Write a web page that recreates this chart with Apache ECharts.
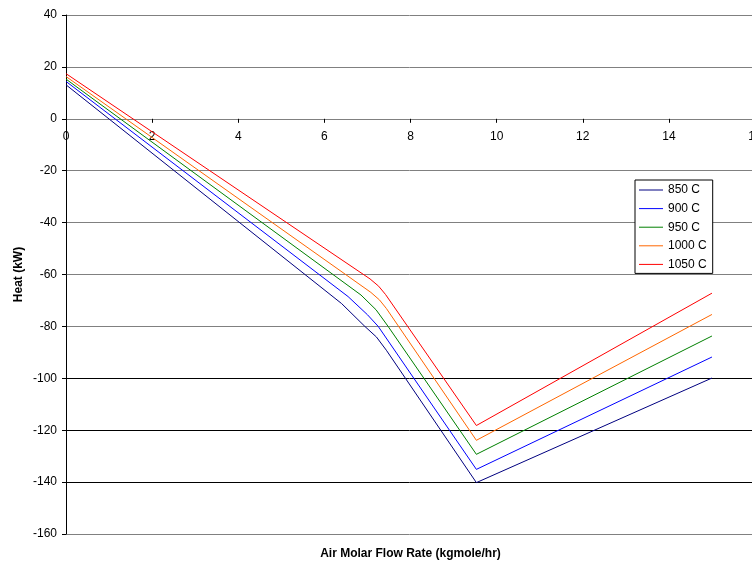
<!DOCTYPE html>
<html>
<head>
<meta charset="utf-8">
<script src="https://cdn.jsdelivr.net/npm/echarts@6/dist/echarts.min.js"></script>
<style>
  html, body { margin: 0; padding: 0; background: #fff; }
  #chart { width: 752px; height: 564px; }
</style>
</head>
<body>
<div id="chart"></div>
<script>
// ---- Data ----
const seriesNames = ['850 C', '900 C', '950 C', '1000 C', '1050 C'];
const seriesColors = ['#000080', '#0000FF', '#008000', '#FF6600', '#FF0000'];

const data850 = [[0, 13.1], [6.4, -71.2], [6.94, -80.0], [7.21, -84.1], [7.44, -89.2], [9.53, -140.2], [15, -99.9]];
const data900 = [[0, 14.4], [6.55, -68.5], [7.0, -75.5], [7.25, -80.0], [9.53, -135.1], [15, -91.8]];
const data950 = [[0, 15.3], [6.85, -67.9], [7.2, -73.6], [7.48, -80.0], [9.53, -129.3], [15, -83.7]];
const data1000 = [[0, 16.3], [7.08, -66.9], [7.28, -69.8], [7.44, -73.1], [9.53, -123.9], [15, -75.4]];
const data1050 = [[0, 17.4], [7.06, -61.7], [7.26, -64.5], [7.42, -67.7], [9.53, -118.2], [15, -67.2]];

const xTicks = [0, 2, 4, 6, 8, 10, 12, 14, 16];
const yTicks = [-160, -140, -120, -100, -80, -60, -40, -20, 0, 20, 40];

const xTitle = 'Air Molar Flow Rate (kgmole/hr)';
const yTitle = 'Heat (kW)';

// ---- Chart ----
const allData = [data850, data900, data950, data1000, data1050];
const font = '"Liberation Sans", Arial, sans-serif';
const GRAY = '#808080';
const BLACK = '#000000';
const splitColors = yTicks.map(v => (v >= -140 && v <= -100) ? BLACK : GRAY);

const gridTop = 15;
const gridHeight = 519;
const yMin = yTicks[0], yMax = yTicks[yTicks.length - 1];
// distance from the grid top down to the value 0 (x axis crosses there)
const zeroOffset = gridHeight * (yMax - 0) / (yMax - yMin);

const chart = echarts.init(document.getElementById('chart'), null, { renderer: 'canvas' });
chart.setOption({
  animation: false,
  backgroundColor: '#ffffff',
  textStyle: { fontFamily: font },
  grid: { left: 66, width: 689, top: gridTop, height: gridHeight, containLabel: false, outerBoundsMode: 'none' },
  legend: {
    orient: 'vertical',
    left: 635,
    top: 180,
    data: seriesNames,
    icon: 'rect',
    itemWidth: 24,
    itemHeight: 1,
    itemGap: 4.6,
    padding: [3, 6, 2, 4],
    borderColor: '#000',
    borderWidth: 1,
    backgroundColor: '#fff',
    textStyle: { fontFamily: font, fontSize: 12, color: '#000', lineHeight: 14 }
  },
  xAxis: [{
    type: 'value',
    position: 'top',
    offset: -zeroOffset,
    min: xTicks[0],
    max: xTicks[xTicks.length - 1],
    interval: 2,
    axisLine: { show: true, onZero: false, lineStyle: { color: GRAY, width: 1 } },
    axisTick: { show: true, inside: true, length: 4, lineStyle: { color: BLACK } },
    axisLabel: { inside: true, margin: 12, fontSize: 12, color: '#000', fontFamily: font, showMaxLabel: true, showMinLabel: true },
    splitLine: { show: false }
  }, {
    type: 'value',
    position: 'bottom',
    min: xTicks[0],
    max: xTicks[xTicks.length - 1],
    interval: 2,
    name: xTitle,
    nameLocation: 'middle',
    nameGap: 14,
    nameTextStyle: { fontFamily: font, fontSize: 12, fontWeight: 'bold', color: '#000' },
    axisLine: { show: false, onZero: false },
    axisTick: { show: false },
    axisLabel: { show: false },
    splitLine: { show: false }
  }],
  yAxis: {
    type: 'value',
    min: yMin,
    max: yMax,
    interval: 20,
    name: yTitle,
    nameLocation: 'middle',
    nameGap: 41,
    nameMoveOverlap: false,
    nameTextStyle: { fontFamily: font, fontSize: 12, fontWeight: 'bold', color: '#000' },
    axisLine: { show: true, onZero: false, lineStyle: { color: BLACK, width: 1 } },
    axisTick: { show: true, length: 4, lineStyle: { color: BLACK } },
    axisLabel: { margin: 9, fontSize: 12, color: '#000', fontFamily: font },
    splitLine: { show: true, lineStyle: { color: splitColors, width: 1 } }
  },
  series: seriesNames.map((name, i) => ({
    name: name,
    type: 'line',
    xAxisIndex: 0,
    data: allData[i],
    symbol: 'none',
    showSymbol: false,
    smooth: false,
    color: seriesColors[i],
    lineStyle: { color: seriesColors[i], width: 1 },
    z: 3
  }))
});
</script>
</body>
</html>
